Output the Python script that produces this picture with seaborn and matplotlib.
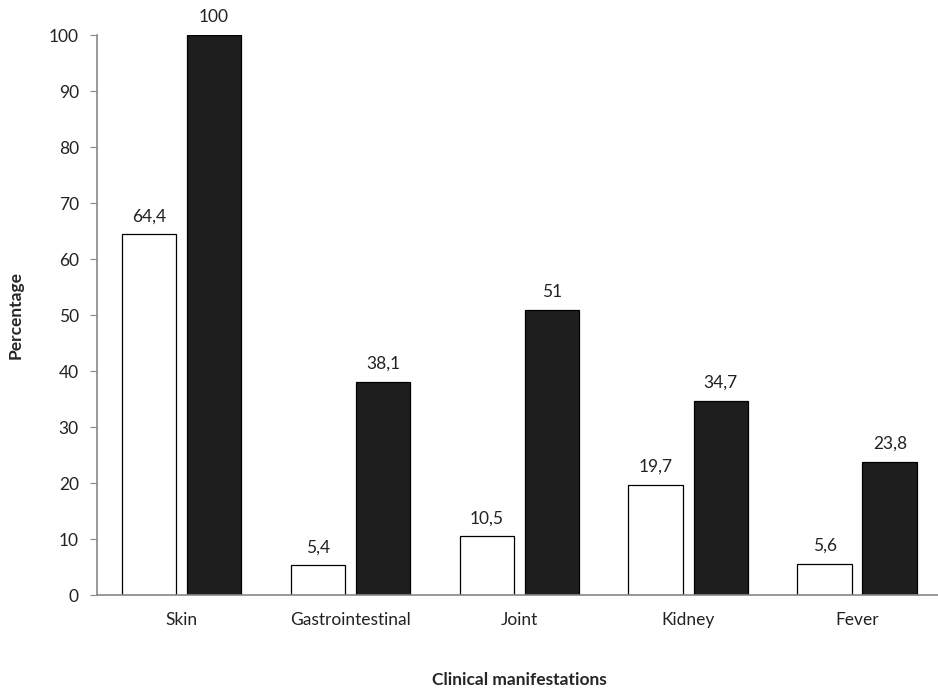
import matplotlib
matplotlib.use("Agg")
import matplotlib.pyplot as plt
import seaborn as sns
import pandas as pd

# values
categories = ["Skin", "Gastrointestinal", "Joint", "Kidney", "Fever"]
group_a = [64.4, 5.4, 10.5, 19.7, 5.6]
group_b = [100, 38.1, 51, 34.7, 23.8]
groups = ["Group 1", "Group 2"]

data = []
for i, cat in enumerate(categories):
    data.append([cat, groups[0], group_a[i]])
    data.append([cat, groups[1], group_b[i]])
df = pd.DataFrame(data, columns=["Manifestation", "Group", "Value"])

sns.set_style("white")
plt.rcParams["font.family"] = ["Lato", "DejaVu Sans"]

fig, ax = plt.subplots(figsize=(9.38, 6.88), dpi=100)
fig.subplots_adjust(left=0.1034, right=1.004, bottom=0.135, top=0.949)

sns.barplot(x="Manifestation", y="Value", hue="Group", data=df, ax=ax,
            palette=["white", "#1e1e1e"], width=0.77, gap=0.16,
            edgecolor="black", linewidth=0.9, legend=False, errorbar=None)


def fmt(v):
    if float(v).is_integer():
        return str(int(v))
    return f"{v:.1f}".replace(".", ",")


for cont in ax.containers:
    ax.bar_label(cont, labels=[fmt(b.get_height()) for b in cont],
                 padding=7, fontsize=12.5, color="#222222")

ax.set_ylim(0, 100)
ax.set_yticks(range(0, 101, 10))
ax.set_xlim(-0.5, 4.5)
ax.set_ylabel("Percentage", fontsize=12.5, fontweight="bold", labelpad=18)
ax.set_xlabel("Clinical manifestations", fontsize=12.5, fontweight="bold")
ax.xaxis.set_label_coords(0.5, -0.152)
ax.xaxis.label.set_va("center")

sns.despine(ax=ax, top=True, right=True)
for side in ["left", "bottom"]:
    ax.spines[side].set_color("#888888")
    ax.spines[side].set_linewidth(1.2)
ax.tick_params(axis="y", which="both", left=True, length=5, color="#888888",
               labelsize=12.5, labelcolor="#222222", pad=8)
ax.tick_params(axis="x", bottom=False, labelsize=12.5, labelcolor="#222222", pad=9)

plt.savefig("out.png", dpi=100)
